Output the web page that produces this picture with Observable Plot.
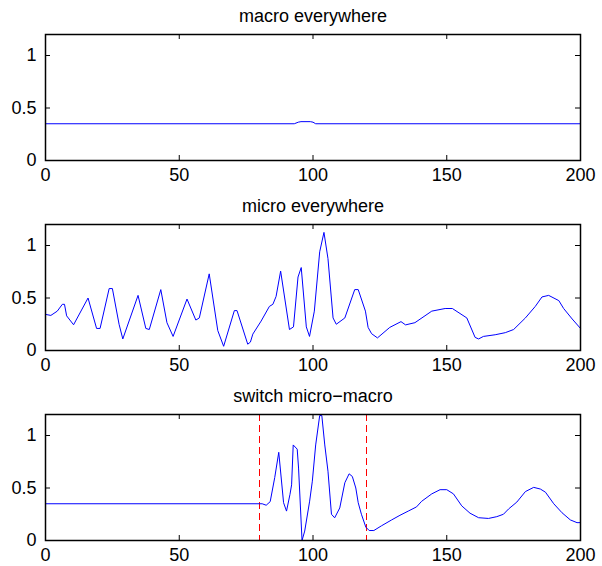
<!DOCTYPE html>
<html>
<head>
<meta charset="utf-8">
<script src="https://cdn.jsdelivr.net/npm/d3@7"></script>
<script src="https://cdn.jsdelivr.net/npm/@observablehq/plot@0.6"></script>
<style>
  html, body { margin: 0; padding: 0; background: #fff; }
  #chart { width: 602px; }
  #chart svg { display: block; }
</style>
</head>
<body>
<div id="chart"></div>
<script>
// ---- data ----
const titles = ["macro everywhere", "micro everywhere", "switch micro\u2212macro"];
const xTicks = [0, 50, 100, 150, 200];
const yTicks = [0, 0.5, 1];
const switchLines = [80, 120];

const macroX = [0, 93, 94.5, 95.5, 99, 100, 101, 200];
const macroY = [0.35, 0.35, 0.365, 0.37, 0.37, 0.365, 0.35, 0.35];

const microX = [0, 2, 4.4, 6.3, 7.1, 7.9, 10.5, 15.9, 19.1, 20.4, 23.8, 25, 27.5, 28.9, 34.6, 37.5, 38.8, 43.1, 45.4, 47.7, 52.9, 56.2, 57.5, 61.2, 64.4, 66.6, 70.6, 71.6, 75.6, 76.6, 77.5, 80.6, 83.7, 85, 86.2, 87.9, 91.2, 92.7, 94.4, 95.6, 97.5, 98.7, 100.5, 102.5, 104.1, 105.6, 107.5, 108.7, 111.9, 115.6, 116.9, 119.6, 120.6, 121.9, 124.1, 128.7, 132.9, 134.6, 138.1, 144.4, 149.4, 152.1, 157.5, 160.6, 161.9, 163.7, 168.1, 171.9, 175, 179.4, 183.1, 185.6, 188.1, 191.9, 193.7, 196.9, 200];
const microY = [0.344, 0.334, 0.375, 0.44, 0.44, 0.33, 0.245, 0.5, 0.21, 0.21, 0.59, 0.59, 0.25, 0.11, 0.525, 0.21, 0.2, 0.58, 0.265, 0.134, 0.49, 0.29, 0.31, 0.73, 0.19, 0.04, 0.38, 0.38, 0.06, 0.08, 0.156, 0.28, 0.42, 0.44, 0.515, 0.756, 0.2, 0.225, 0.7, 0.79, 0.225, 0.134, 0.375, 0.94, 1.125, 0.875, 0.31, 0.25, 0.31, 0.58, 0.58, 0.375, 0.22, 0.16, 0.12, 0.22, 0.275, 0.244, 0.265, 0.375, 0.4, 0.4, 0.31, 0.125, 0.11, 0.134, 0.15, 0.17, 0.2, 0.31, 0.42, 0.51, 0.525, 0.475, 0.4, 0.3, 0.21];

const switchX = [0, 81, 82.5, 84, 85.7, 87.2, 89, 90.1, 91.4, 92, 92.6, 94.1, 94.6, 95.9, 96.9, 98.75, 99.75, 101, 102.5, 103.3, 104.4, 105.6, 106.9, 108.1, 110, 111.9, 113.5, 114.7, 116, 116.9, 118.1, 119.75, 121, 122.75, 125.6, 129.4, 132.5, 135.6, 138.7, 140.6, 144.4, 147.5, 150, 152.5, 155.6, 158.7, 161.9, 165.6, 168.7, 171.2, 173.1, 176.2, 179.4, 182.5, 185, 186.9, 190, 193.1, 196.2, 198.7, 200];
const switchY = [0.35, 0.35, 0.336, 0.37, 0.6, 0.84, 0.36, 0.28, 0.44, 0.53, 0.91, 0.87, 0.69, 0.0, 0.09, 0.375, 0.565, 0.91, 1.19, 1.19, 0.91, 0.66, 0.25, 0.216, 0.31, 0.55, 0.635, 0.61, 0.5, 0.36, 0.25, 0.127, 0.095, 0.095, 0.14, 0.196, 0.24, 0.28, 0.32, 0.373, 0.444, 0.484, 0.484, 0.444, 0.33, 0.26, 0.217, 0.21, 0.227, 0.25, 0.3, 0.366, 0.466, 0.506, 0.49, 0.46, 0.35, 0.264, 0.196, 0.17, 0.17];

// ---- drawing ----
const FONT = "'Liberation Sans', Arial, Helvetica, sans-serif";
const W = 602, ML = 45, MR = 22, MT = 34, FH = 126, TICK = 5;
const FW = W - ML - MR;

function panel(title, xs, ys, opts = {}) {
  const data = xs.map((x, i) => ({x, y: ys[i]}));
  const mb = opts.marginBottom ?? 30;
  const marks = [
    Plot.text([title], {frameAnchor: "top", lineAnchor: "middle", dy: -18, fontSize: 18, fill: "black"}),
    Plot.axisX(xTicks, {label: null, tickSize: 0, tickPadding: 8, fontSize: 18, tickFormat: d => String(d)}),
    Plot.axisY(yTicks, {label: null, tickSize: 0, tickPadding: 9, fontSize: 18, tickFormat: d => String(d)}),
    Plot.tickX(xTicks, {x: d => d, stroke: "black", insetTop: FH - TICK}),
    Plot.tickX(xTicks, {x: d => d, stroke: "black", insetBottom: FH - TICK}),
    Plot.tickY(yTicks, {y: d => d, stroke: "black", insetRight: FW - TICK}),
    Plot.tickY(yTicks, {y: d => d, stroke: "black", insetLeft: FW - TICK})
  ];
  if (opts.vlines) {
    marks.push(Plot.ruleX(opts.vlines, {x: d => d, stroke: "#ff0000", strokeWidth: 1, strokeDasharray: "7,4"}));
  }
  marks.push(Plot.line(data, {x: "x", y: "y", stroke: "#0000ff", strokeWidth: 1}));
  marks.push(Plot.frame({stroke: "black", strokeWidth: 1.5}));
  return Plot.plot({
    width: W,
    height: MT + FH + mb,
    marginLeft: ML, marginRight: MR, marginTop: MT, marginBottom: mb,
    style: {fontFamily: FONT, color: "black", background: "white", overflow: "visible"},
    x: {domain: [0, 200], label: null},
    y: {domain: [0, 1.2], label: null},
    marks
  });
}

const root = document.getElementById("chart");
root.appendChild(panel(titles[0], macroX, macroY));
root.appendChild(panel(titles[1], microX, microY));
root.appendChild(panel(titles[2], switchX, switchY, {vlines: switchLines, marginBottom: 26}));
</script>
</body>
</html>
